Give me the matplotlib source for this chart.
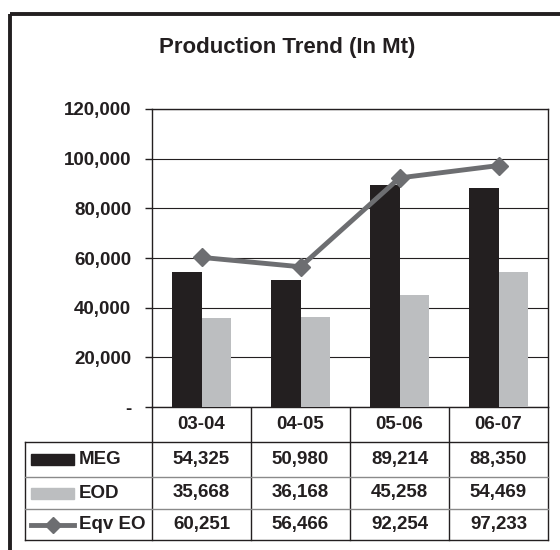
import matplotlib
matplotlib.use("Agg")
import matplotlib.pyplot as plt
from matplotlib.patches import Rectangle
from matplotlib.lines import Line2D

# ---- data -------------------------------------------------------------------
years = ["03-04", "04-05", "05-06", "06-07"]
meg = [54325, 50980, 89214, 88350]
eod = [35668, 36168, 45258, 54469]
eqv_eo = [60251, 56466, 92254, 97233]
series_names = ["MEG", "EOD", "Eqv EO"]
y_ticks = [0, 20000, 40000, 60000, 80000, 100000, 120000]

# ---- style ------------------------------------------------------------------
INK = "#231f20"
BLACK_BAR = "#231f20"
GREY_BAR = "#bcbec0"
LINE = "#6d6e71"
RULE = "#8a8a8a"
W, H = 560, 550
FS = 13.5

plt.rcParams["font.family"] = ["Liberation Sans", "DejaVu Sans"]
plt.rcParams["font.weight"] = "bold"

fig = plt.figure(figsize=(W / 100, H / 100), dpi=100)

# pixel-space canvas for frame, title and the data table
cv = fig.add_axes([0, 0, 1, 1])
cv.set_xlim(0, W)
cv.set_ylim(H, 0)
cv.axis("off")

# plot area geometry (pixels)
PL, PR, PT, PB = 152, 548, 109, 407
ax = fig.add_axes([PL / W, (H - PB) / H, (PR - PL) / W, (PB - PT) / H])

x = list(range(len(years)))
bw = 0.3
ax.bar([i - bw / 2 for i in x], meg, width=bw, color=BLACK_BAR, zorder=3)
ax.bar([i + bw / 2 for i in x], eod, width=bw, color=GREY_BAR, zorder=3)
ax.plot(x, eqv_eo, "-D", color=LINE, lw=3.5, ms=9.5, zorder=4)

ax.set_xlim(-0.5, len(years) - 0.5)
ax.set_ylim(0, 120000)
ax.set_yticks(y_ticks)
ax.set_yticklabels(["-" if v == 0 else f"{v:,}" for v in y_ticks],
                   fontsize=FS, fontweight="bold", color=INK)
ax.set_xticks([])
ax.grid(True, axis="y", color=INK, lw=0.8, zorder=0)
ax.set_axisbelow(True)
for s in ax.spines.values():
    s.set_color(INK)
    s.set_linewidth(1.0)
ax.tick_params(axis="y", direction="out", length=5, width=1.0, color=INK, pad=10)

# outer frame (runs off the right and bottom edge)
cv.add_patch(Rectangle((10, 14), 600, 600, fill=False, ec=INK, lw=2.8))

cv.text(287, 47, "Production Trend (In Mt)", fontsize=16, fontweight="bold",
        ha="center", va="center", color=INK)

# ---- data table -------------------------------------------------------------
TL = 25
col_w = (PR - PL) / len(years)
col_edges = [PL + i * col_w for i in range(len(years) + 1)]
row_edges = [PB, 442, 477, 509, 540]

for xe in col_edges:
    cv.plot([xe, xe], [PB, row_edges[-1]], color=INK, lw=1.0)
cv.plot([TL, TL], [row_edges[1], row_edges[-1]], color=INK, lw=1.0)
cv.plot([TL, PR], [row_edges[1], row_edges[1]], color=INK, lw=1.0)
for ye in row_edges[2:-1]:
    cv.plot([TL, PR], [ye, ye], color=RULE, lw=1.0)
cv.plot([TL, PR], [row_edges[-1], row_edges[-1]], color=INK, lw=1.0)

cy = (row_edges[0] + row_edges[1]) / 2
for i, yr in enumerate(years):
    cv.text((col_edges[i] + col_edges[i + 1]) / 2, cy, yr, fontsize=FS,
            fontweight="bold", ha="center", va="center", color=INK)

rows = [meg, eod, eqv_eo]
for r, (name, vals) in enumerate(zip(series_names, rows)):
    yc = (row_edges[r + 1] + row_edges[r + 2]) / 2
    # legend key
    if r == 0:
        cv.add_patch(Rectangle((31, yc - 5.5), 43, 11, color=BLACK_BAR))
    elif r == 1:
        cv.add_patch(Rectangle((31, yc - 5.5), 43, 11, color=GREY_BAR))
    else:
        cv.add_line(Line2D([31, 74], [yc, yc], color=LINE, lw=3.5))
        cv.plot([52.5], [yc], "D", color=LINE, ms=8)
    cv.text(79, yc, name, fontsize=FS, fontweight="bold", ha="left",
            va="center", color=INK)
    for i, v in enumerate(vals):
        cv.text((col_edges[i] + col_edges[i + 1]) / 2, yc, f"{v:,}", fontsize=FS,
                fontweight="bold", ha="center", va="center", color=INK)

fig.savefig("out.png", dpi=100)
